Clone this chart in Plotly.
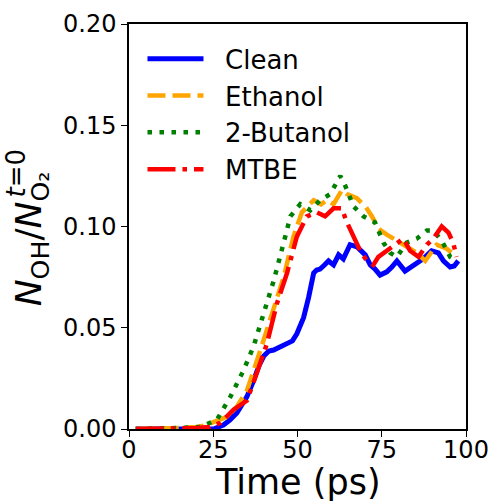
import plotly.graph_objects as go

# Time (ps) and N_OH / N_O2(t=0)
t_clean = [2, 10, 15, 20, 25.1, 28, 30, 32, 35, 37, 38.5, 40, 41.5, 42.9, 45, 46.9, 48.5, 49.8, 50.8, 51.8, 53.3, 54.8, 55.7, 56.7, 58, 59.2, 60.7, 62.2, 63.6, 65.6, 67.6, 70.1, 71.6, 73, 74.5, 76.5, 78, 79.5, 81.9, 84.4, 87.3, 89.8, 91.8, 93.3, 95.3, 96.5, 97.7]
v_clean = [0.0, 0.0, 0.0, 0.0, 0.0, 0.002, 0.0045, 0.0079, 0.016, 0.024, 0.031, 0.036, 0.0385, 0.039, 0.0405, 0.042, 0.0435, 0.047, 0.051, 0.055, 0.065, 0.077, 0.0785, 0.079, 0.081, 0.083, 0.081, 0.086, 0.084, 0.091, 0.090, 0.086, 0.081, 0.079, 0.076, 0.0776, 0.080, 0.083, 0.078, 0.081, 0.084, 0.088, 0.087, 0.083, 0.080, 0.0805, 0.083]

t_eth = [2, 10, 15, 20, 22.2, 26, 29.1, 32, 35, 39, 42.9, 45.9, 48.8, 51.3, 54.8, 57, 58.7, 60.7, 63.2, 64.7, 67.6, 70.1, 72.1, 74, 76.5, 79.5, 82.4, 85.4, 87.9, 89.8, 91.3, 94.3, 97.2]
v_eth = [0.0, 0.0, 0.0005, 0.001, 0.0016, 0.004, 0.006, 0.011, 0.019, 0.039, 0.060, 0.075, 0.095, 0.107, 0.113, 0.111, 0.113, 0.111, 0.118, 0.116, 0.114, 0.110, 0.105, 0.099, 0.096, 0.093, 0.090, 0.087, 0.083, 0.087, 0.091, 0.089, 0.085]

t_but = [2, 10, 15, 21.2, 26.1, 30.1, 34, 37, 40, 42.9, 45.9, 47.9, 50.8, 53.8, 56.7, 59.7, 62.7, 64.2, 66.6, 69.6, 73, 75.5, 77.5, 79.5, 82.4, 85.4, 88.4, 90.3, 92.8, 95.3, 97.2]
v_but = [0.0, 0.0, 0.0005, 0.001, 0.0046, 0.016, 0.029, 0.041, 0.057, 0.073, 0.092, 0.105, 0.111, 0.108, 0.113, 0.116, 0.125, 0.120, 0.110, 0.105, 0.102, 0.092, 0.087, 0.085, 0.092, 0.094, 0.098, 0.098, 0.093, 0.085, 0.083]

t_mtbe = [2, 10, 15, 20, 24, 27.1, 31, 35, 38, 40.9, 43.9, 46.9, 49.8, 52.8, 55.8, 58.2, 60.7, 63.2, 64.4, 66.6, 68.6, 70.6, 72.5, 74, 76.5, 79.5, 81.4, 83.4, 85.9, 88.4, 90.3, 92.8, 94.8, 96.2, 97.2]
v_mtbe = [0.0, 0.0, 0.0, 0.0005, 0.001, 0.003, 0.0095, 0.014, 0.028, 0.042, 0.062, 0.077, 0.095, 0.105, 0.107, 0.105, 0.109, 0.109, 0.103, 0.095, 0.088, 0.083, 0.081, 0.085, 0.088, 0.092, 0.094, 0.088, 0.085, 0.091, 0.094, 0.100, 0.097, 0.092, 0.085]

x_ticks = [0, 25, 50, 75, 100]
y_ticks = [0.00, 0.05, 0.10, 0.15, 0.20]

FONT = "DejaVu Sans"
SP = "\u00a0\u00a0"
fig = go.Figure()
fig.add_trace(go.Scatter(x=t_clean, y=v_clean, name=SP + "Clean", mode="lines",
                         line=dict(color="blue", width=5)))
fig.add_trace(go.Scatter(x=t_eth, y=v_eth, name=SP + "Ethanol", mode="lines",
                         line=dict(color="orange", width=4.5, dash="18px,7px")))
fig.add_trace(go.Scatter(x=t_but, y=v_but, name=SP + "2-Butanol", mode="lines",
                         line=dict(color="green", width=4.5, dash="4.5px,7.5px")))
fig.add_trace(go.Scatter(x=t_mtbe, y=v_mtbe, name=SP + "MTBE", mode="lines",
                         line=dict(color="red", width=4.5, dash="28px,7px,4.5px,7px")))

axis_common = dict(showline=True, linecolor="black", linewidth=1.5, mirror=True,
                   ticks="outside", ticklen=6, tickwidth=1.2, tickcolor="black",
                   showgrid=False, zeroline=False, automargin=False,
                   tickfont=dict(family=FONT, size=24, color="black"))
fig.update_xaxes(range=[0, 100], tickvals=x_ticks, ticktext=[str(v) for v in x_ticks],
                 ticklabelstandoff=-8, **axis_common)
fig.update_yaxes(range=[0, 0.2], tickvals=y_ticks, ticktext=[f"{v:.2f}" for v in y_ticks],
                 **axis_common)

# x-axis label
fig.add_annotation(text="Time (ps)", xref="paper", yref="paper", x=0.5, y=-0.131,
                   xanchor="center", yanchor="middle", showarrow=False,
                   font=dict(family=FONT, size=35, color="black"))
# y-axis label: main part and stacked superscript
fig.add_annotation(text="<i>N</i><sub>OH</sub>/<i>N</i><sub>O₂</sub>", textangle=-90,
                   xref="paper", yref="paper", x=-0.29, y=0.469, xanchor="center", yanchor="middle",
                   showarrow=False, font=dict(family=FONT, size=36, color="black"))
fig.add_annotation(text="<i>t</i>=0", textangle=-90,
                   xref="paper", yref="paper", x=-0.335, y=0.631, xanchor="center", yanchor="middle",
                   showarrow=False, font=dict(family=FONT, size=26, color="black"))

fig.update_layout(
    width=493, height=501,
    margin=dict(l=129, r=26.5, t=24, b=71.5),
    plot_bgcolor="white", paper_bgcolor="white",
    font=dict(family=FONT, color="black"),
    legend=dict(x=0.04, y=0.972, xanchor="left", yanchor="top",
                bgcolor="rgba(255,255,255,0)", borderwidth=0,
                font=dict(family=FONT, size=26, color="black"),
                itemwidth=56, tracegroupgap=6),
)
fig.write_html("out.html")
